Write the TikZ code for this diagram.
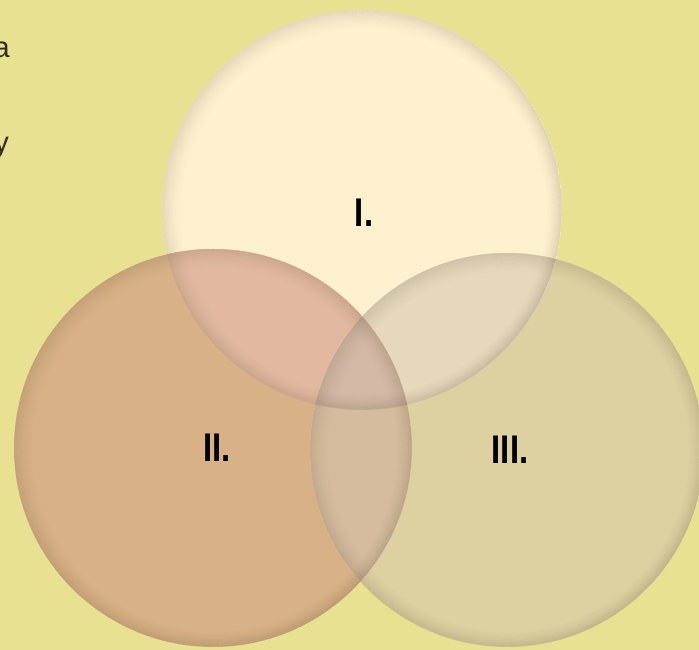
\documentclass[tikz,border=0pt]{standalone}
\usepackage{fontspec}
\usetikzlibrary{calc}
\setmainfont{Liberation Sans}
\newfontfamily\lblfont[FakeStretch=0.82]{Liberation Sans Bold}
\definecolor{bg}{HTML}{E8E192}
\definecolor{fillI}{HTML}{FEF1D0}
\definecolor{fillII}{HTML}{D8B186}
\definecolor{fillIII}{HTML}{DDD1A2}
\definecolor{fillIandII}{HTML}{E2B9A0}
\definecolor{fillIandIII}{HTML}{E6D8BC}
\definecolor{fillIIandIII}{HTML}{D5BC9E}
\definecolor{fillall}{HTML}{D3B9A5}
\definecolor{rimcol}{HTML}{5A4A30}
\definecolor{sidetext}{HTML}{2E2A1C}
\tikzset{
  lbl/.style={inner sep=0pt, text=black, font=\lblfont\fontsize{40}{42}\selectfont},
  sidelbl/.style={inner sep=0pt, text=sidetext, font=\fontsize{29}{31}\selectfont},
}
\newcommand{\rimring}[2]{%
  \foreach \k [evaluate=\k as \op using {0.13*(1-\k/18)^1.6},
               evaluate=\k as \rr using {#2-0.6-\k},
               evaluate=\k as \dx using {0.12*\k}] in {0,...,17}{
    \draw[line width=1.2pt, draw=rimcol, draw opacity=\op] ($(#1)+(\dx,-\dx)$) circle (\rr);
  }}
\begin{document}
\begin{tikzpicture}[x=1pt,y=1pt]
\useasboundingbox (0,0) rectangle (699,650);
\fill[bg] (0,0) rectangle (699,650);
\coordinate (cI) at (362,440);
\coordinate (cII) at (213,202);
\coordinate (cIII) at (507,200);
\def\rI{200}
\def\rII{199}
\def\rIII{197}
% base fills
\fill[fillI] (cI) circle (\rI);
\fill[fillII] (cII) circle (\rII);
\fill[fillIII] (cIII) circle (\rIII);
% overlaps
\begin{scope}
  \clip (cI) circle (\rI);
  \fill[fillIandII] (cII) circle (\rII);
  \fill[fillIandIII] (cIII) circle (\rIII);
\end{scope}
\begin{scope}
  \clip (cII) circle (\rII);
  \fill[fillIIandIII] (cIII) circle (\rIII);
  \clip (cI) circle (\rI);
  \fill[fillall] (cIII) circle (\rIII);
\end{scope}
% soft inner rims
\begin{scope}
  \clip (cI) circle (\rI);
  \rimring{cI}{\rI}
\end{scope}
\begin{scope}
  \clip (cII) circle (\rII);
  \rimring{cII}{\rII}
\end{scope}
\begin{scope}
  \clip (cIII) circle (\rIII);
  \rimring{cIII}{\rIII}
\end{scope}
% labels
\node[lbl] (lI) at (364,437) {I.};
\node[lbl] (lII) at (217,202) {II.};
\node[lbl] (lIII) at (510,200) {III.};
% side text at the left edge
\node[sidelbl, anchor=base east] (sa) at (10,592) {a};
\node[sidelbl, anchor=base east] (sy) at (9,497) {y};
\end{tikzpicture}
\end{document}
